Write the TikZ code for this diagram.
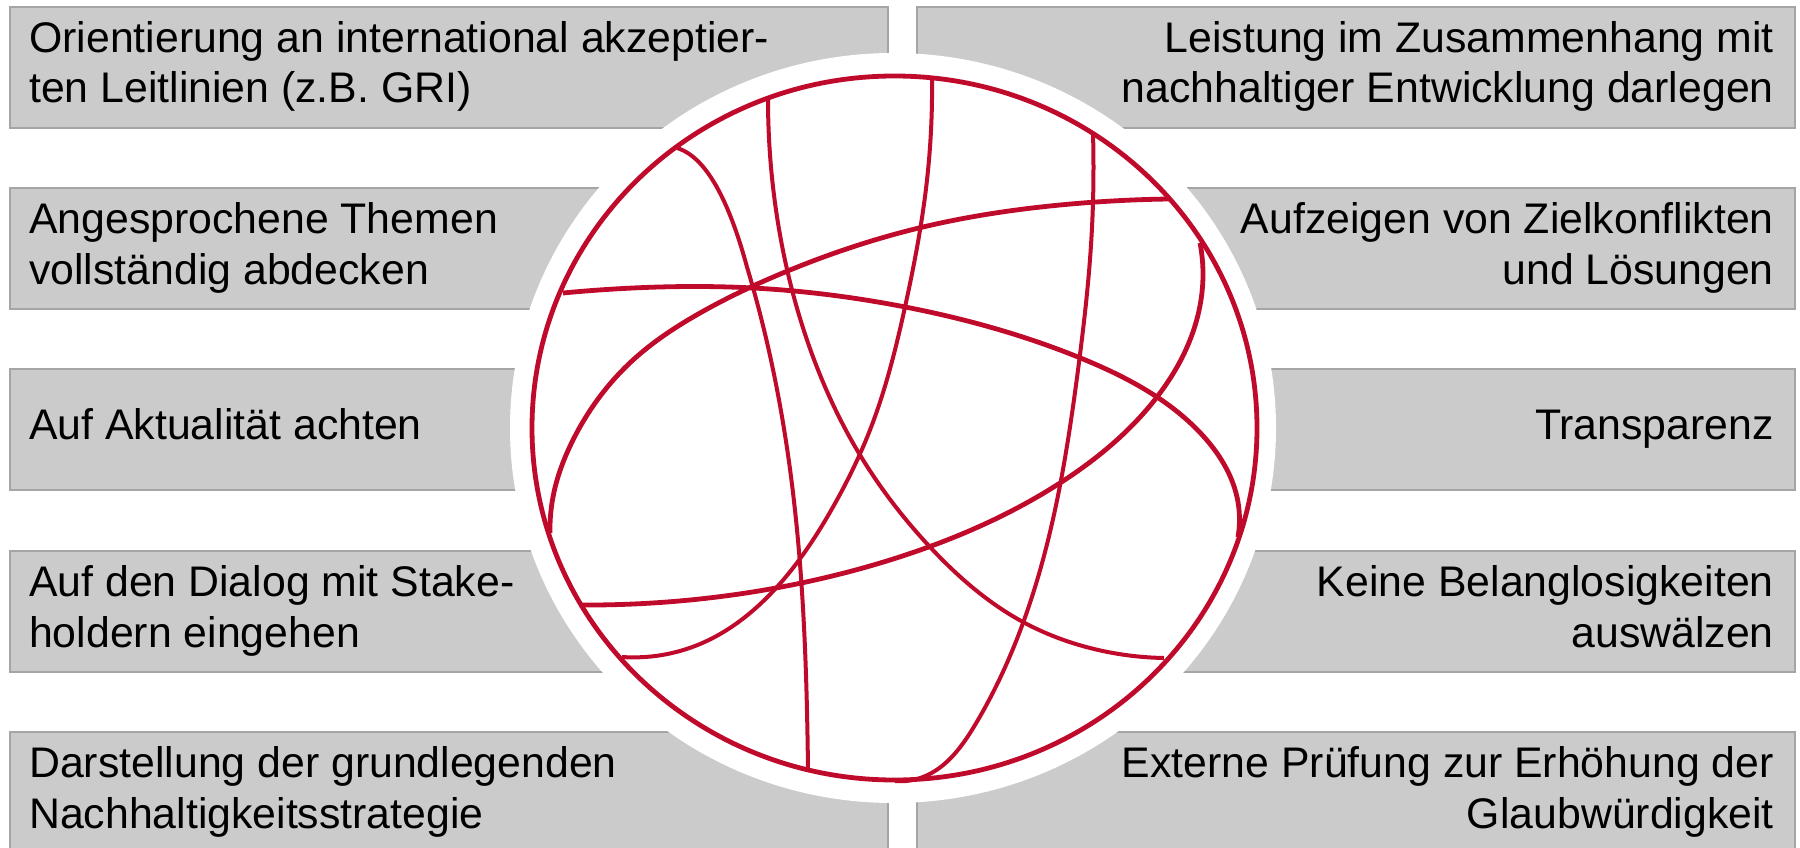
\documentclass[tikz,border=0pt]{standalone}
\usepackage{fontspec}
\setmainfont{Liberation Sans}
\usetikzlibrary{hobby}
\definecolor{globered}{RGB}{192,10,44}
\definecolor{boxgray}{RGB}{203,203,203}
\definecolor{boxline}{RGB}{165,165,165}
\newcommand{\lstrut}{\rule[-10pt]{0pt}{42pt}}
\begin{document}
\begin{tikzpicture}[x=1pt,y=-1pt,
  box/.style={draw=boxline, line width=2pt, fill=boxgray, minimum width=878pt, minimum height=121pt, inner sep=0pt, anchor=north west},
  txt/.style={inner sep=0pt, font=\fontsize{42.8}{51}\selectfont},
  ltext/.style={txt, anchor=west, align=left},
  rtext/.style={txt, anchor=east, align=right},
  globe/.style={draw=globered, line width=4pt},
  wideline/.style={globe, line width=4.8pt}]
\useasboundingbox (0,0) rectangle (1800,848);
\fill[white] (0,0) rectangle (1800,848);
% boxes
\foreach \t [count=\i] in {6,187,368,550,731}{
  \node[box] (l\i) at (9,\t) {};
  \node[box] (r\i) at (916,\t) {};
}
% white disc
\fill[white] (893,428) ellipse [x radius=383pt, y radius=375pt];
% globe outline
\draw[wideline] (894.5,428) ellipse [x radius=362.5pt, y radius=352pt];
% inner curves
\draw[globe] (677,148) .. controls (710,158) and (732,212) .. (747,267) .. controls (798,437) and (806,600) .. (808,770);
\draw[globe] (768,100) to[curve through={(776,210) .. (807,340) .. (860,455) .. (930,547) .. (1023,622) .. (1090,648)}] (1164,658);
\draw[globe] (932,78) to[curve through={(927,180) .. (905,307) .. (870,430) .. (833,507) .. (777,587) .. (700,644)}] (622,657);
\draw[globe] (1093,133) to[curve through={(1091,245) .. (1078,370) .. (1055,510) .. (1023,623) .. (975,725) .. (923,777)}] (895,781);
\draw[wideline] (1169,199) to[curve through={(1060,205) .. (923,227) .. (790,270) .. (700,313) .. (633,360) .. (573,440) .. (553,497)}] (550,533);
\draw[wideline] (563,293) to[curve through={(633,288) .. (753,288) .. (900,306) .. (1078,357) .. (1157,397) .. (1205,438) .. (1237,497)}] (1238,537);
\draw[wideline] (580,605) to[curve through={(717,597) .. (890,560) .. (1060,483) .. (1157,397) .. (1190,340) .. (1203,273)}] (1200,243);
% texts
\node[ltext] (t1) at (29,66.5) {\lstrut Orientierung an international akzeptier-\\\lstrut ten Leitlinien (z.B. GRI)};
\node[ltext] (t2) at (29,247.5) {\lstrut Angesprochene Themen\\\lstrut vollständig abdecken};
\node[ltext] (t3) at (29,428.5) {\lstrut Auf Aktualität achten};
\node[ltext] (t4) at (29,610.5) {\lstrut Auf den Dialog mit Stake-\\\lstrut holdern eingehen};
\node[ltext] (t5) at (29,791.5) {\lstrut Darstellung der grundlegenden\\\lstrut Nachhaltigkeitsstrategie};
\node[rtext] (t6) at (1774,66.5) {\lstrut Leistung im Zusammenhang mit\\\lstrut nachhaltiger Entwicklung darlegen};
\node[rtext] (t7) at (1774,247.5) {\lstrut Aufzeigen von Zielkonflikten\\\lstrut und Lösungen};
\node[rtext] (t8) at (1774,428.5) {\lstrut Transparenz};
\node[rtext] (t9) at (1774,610.5) {\lstrut Keine Belanglosigkeiten\\\lstrut auswälzen};
\node[rtext] (t10) at (1774,791.5) {\lstrut Externe Prüfung zur Erhöhung der\\\lstrut Glaubwürdigkeit};
\end{tikzpicture}
\end{document}
